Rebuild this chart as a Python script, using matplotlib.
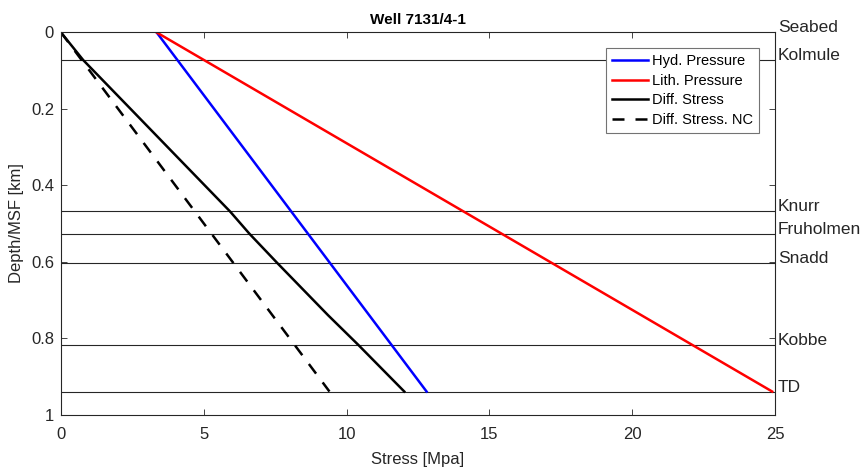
# -*- coding: utf-8 -*-
"""
Perfil de pressão/tensão do poço 7131/4-1 com os topos das formações.
"""

import matplotlib
matplotlib.use("Agg")
import matplotlib.pyplot as plt  # noqa: E402

# Topos das formações (profundidade abaixo do fundo do mar, km)
FORMACOES = ["Seabed", "Kolmule", "Knurr", "Fruholmen", "Snadd", "Kobbe", "TD"]
TOPOS = [0.0, 0.0725, 0.4686, 0.527, 0.604, 0.817, 0.9398]

# Pressão hidrostática e litostática (MPa) nos extremos
PROF_PRESSAO = [0.0, 0.9398]
HYD = [3.35, 12.8]
LITH = [3.35, 24.9]

PROF_DIFF = [0.0, 0.0725, 0.4686, 0.527, 0.604, 0.74, 0.817, 0.9398]
DIFF = [0.0, 0.78, 5.92, 6.6, 7.58, 9.35, 10.4, 12.02]

# Tensão diferencial sob compactação normal (NC)
PROF_NC = [0.0, 0.9398]
DIFF_NC = [0.0, 9.4]

XTICKS = [0, 5, 10, 15, 20, 25]
YTICKS = [0, 0.2, 0.4, 0.6, 0.8, 1.0]
YTICKLABELS = ["0", "0.2", "0.4", "0.6", "0.8", "1"]


def main() -> None:
    plt.rcParams["font.family"] = ["Liberation Sans", "DejaVu Sans"]
    cinza = "0.15"
    lw = 1.8

    fig = plt.figure(figsize=(8.65, 4.7), dpi=100)
    ax = fig.add_axes([0.0705, 0.118, 0.8255, 0.813])

    # Linhas dos topos das formações + rótulo à direita do eixo
    for nome, z in zip(FORMACOES, TOPOS):
        if z > 0:
            ax.axhline(z, color=cinza, linewidth=0.8, zorder=1)
        ax.text(25.1, z, nome, fontsize=12.5, color=cinza,
                ha="left", va="baseline", clip_on=False)

    ax.plot(HYD, PROF_PRESSAO, color="#0000ff", linewidth=lw, label="Hyd. Pressure")
    ax.plot(LITH, PROF_PRESSAO, color="#ff0000", linewidth=lw, label="Lith. Pressure")
    ax.plot(DIFF, PROF_DIFF, color="black", linewidth=lw, label="Diff. Stress")
    ax.plot(DIFF_NC, PROF_NC, color="black", linewidth=lw, linestyle=(0, (4.8, 4.4)),
            label="Diff. Stress. NC")

    ax.set_xlim(0, 25)
    ax.set_ylim(1, 0)
    ax.set_xticks(XTICKS)
    ax.set_yticks(YTICKS)
    ax.set_yticklabels(YTICKLABELS)
    ax.tick_params(direction="in", length=4.5, width=0.6, colors=cinza,
                   labelsize=12, top=True, right=True)
    ax.tick_params(axis="x", pad=9)
    ax.tick_params(axis="y", pad=5)
    for sp in ax.spines.values():
        sp.set_color(cinza)
        sp.set_linewidth(0.8)

    ax.set_title("Well 7131/4-1", fontsize=11, fontweight="bold", color="black", pad=6)
    ax.set_xlabel("Stress [Mpa]", fontsize=12, color=cinza, labelpad=7)
    ax.set_ylabel("Depth/MSF [km]", fontsize=12, color=cinza, labelpad=5)

    leg = ax.legend(loc="upper right", bbox_to_anchor=(0.978, 0.958), fontsize=10.5,
                    handlelength=2.5, handletextpad=0.3, labelspacing=0.38,
                    borderpad=0.4, borderaxespad=0.0, fancybox=False,
                    framealpha=1.0, edgecolor="0.45")
    leg.get_frame().set_linewidth(0.8)

    fig.savefig("out.png", dpi=100, facecolor="white")
    plt.close(fig)


if __name__ == "__main__":
    main()
